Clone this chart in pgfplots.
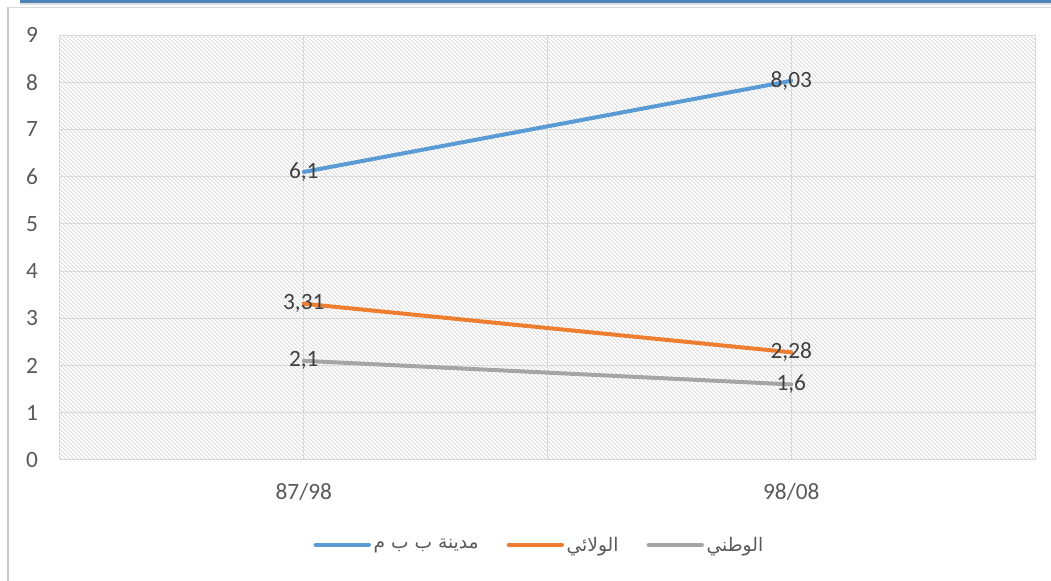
\documentclass[border=0pt]{standalone}
\usepackage{fontspec}
\setmainfont{Carlito}
\newfontfamily\arabicfont[Script=Arabic]{DejaVu Sans}
\TeXXeTstate=1
\usepackage{pgfplots}
\pgfplotsset{compat=1.18}
\usetikzlibrary{patterns}
\definecolor{xlBlue}{HTML}{5B9BD5}
\definecolor{xlOrange}{HTML}{ED7D31}
\definecolor{xlGray}{HTML}{A5A5A5}
\definecolor{gridGray}{HTML}{D9D9D9}
\definecolor{tickGray}{HTML}{595959}
\definecolor{lblGray}{HTML}{404040}
\definecolor{hatchGray}{HTML}{D0D0D0}

\begin{document}
\begin{tikzpicture}
% chart frame pieces (1px = 0.75pt, origin bottom left)
\fill[xlBlue!85!black] (15pt,435.75pt) rectangle (788.25pt,433.6pt);
\fill[gray!25] (15pt,433.6pt) rectangle (788.25pt,432.2pt);
\draw[gridGray!80!gray,line width=1.2pt] (6pt,430.5pt) -- (6pt,0pt);
\draw[gridGray,line width=0.6pt] (6pt,430.5pt) -- (788.25pt,430.5pt);

\begin{axis}[
  at={(45pt,90.75pt)}, anchor=south west,
  scale only axis,
  width=731.25pt, height=318.75pt,
  xmin=-0.5, xmax=1.5,
  ymin=0, ymax=9,
  xtick={-0.5,0,0.5,1,1.5},
  xticklabels={,87/98,,98/08,},
  ytick={0,1,...,9},
  major tick length=0pt,
  xmajorgrids, ymajorgrids,
  grid style={draw=gridGray,line width=0.75pt},
  axis line style={draw=gridGray,line width=0.75pt},
  axis background/.style={pattern=north west lines,pattern color=hatchGray},
  tick label style={font=\fontsize{17.5}{20}\selectfont,text=tickGray},
  /pgf/number format/assume math mode=true,
  yticklabel style={xshift=-13pt},
  xticklabel style={yshift=-14pt},
  nodes near coords,
  point meta=explicit symbolic,
  every node near coord/.style={anchor=center,font=\fontsize{17.5}{20}\selectfont,text=lblGray},
  legend columns=3,
  legend style={at={(0.492,-0.2)},anchor=center,draw=none,fill=none,
    font=\fontsize{14}{16}\selectfont,text=tickGray,
    /tikz/every even column/.style={column sep=19pt}},
  legend image code/.code={\draw[#1,line width=3pt,line cap=round] (0pt,0pt) -- (40pt,0pt);},
]
\addplot[xlBlue,line width=3pt,line cap=round] coordinates {(0,6.1) [6,1] (1,8.03) [8,03]};
\addlegendentry{\arabicfont\beginR مدينة ب ب م\endR}
\addplot[xlOrange,line width=3pt,line cap=round] coordinates {(0,3.31) [3,31] (1,2.28) [2,28]};
\addlegendentry{\arabicfont\beginR الولائي\endR}
\addplot[xlGray,line width=3pt,line cap=round] coordinates {(0,2.1) [2,1] (1,1.6) [1,6]};
\addlegendentry{\arabicfont\beginR الوطني\endR}
\end{axis}
\pgfresetboundingbox
\useasboundingbox (0pt,0pt) rectangle (788.25pt,435.75pt);
\end{tikzpicture}
\end{document}
